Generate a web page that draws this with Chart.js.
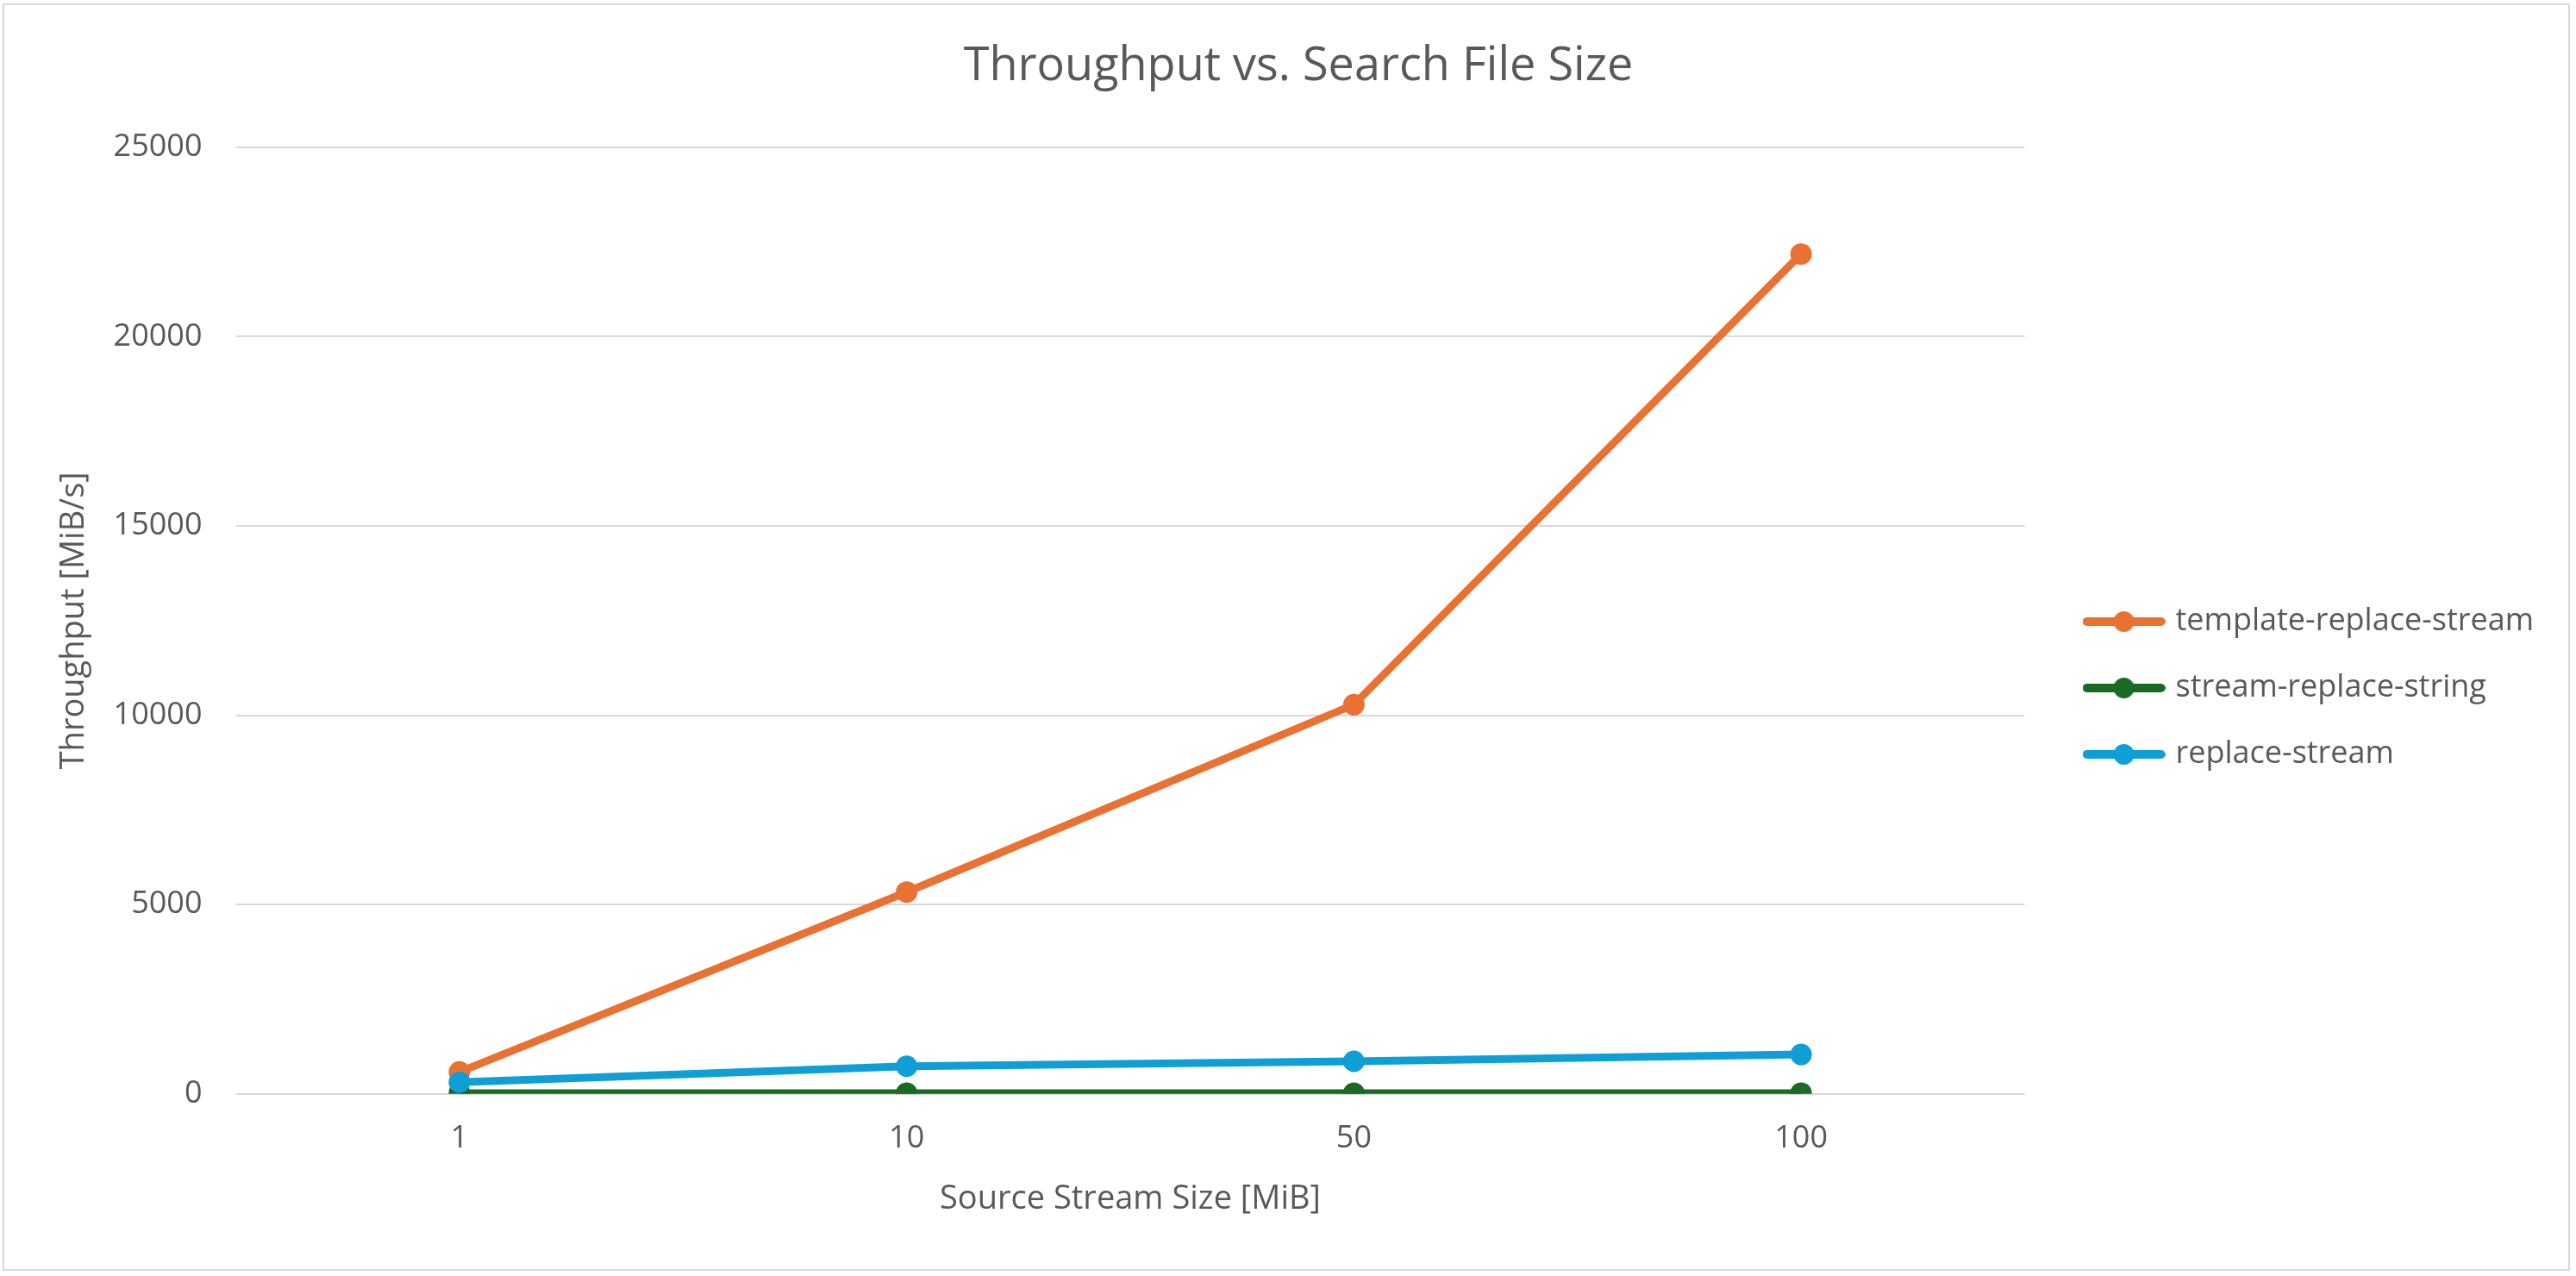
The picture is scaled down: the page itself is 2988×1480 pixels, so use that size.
<!DOCTYPE html>
<html>
<head>
<meta charset="utf-8">
<script src="https://cdn.jsdelivr.net/npm/chart.js@4/dist/chart.umd.min.js"></script>
<style>
  html, body { margin: 0; padding: 0; background: #ffffff; }
  #wrap { position: absolute; left: 3px; top: 4px; width: 2978px; height: 1470px; border: 2px solid #d9d9d9; box-sizing: border-box; background: #fff; }
  canvas { display: block; }
</style>
</head>
<body>
<div id="wrap"><canvas id="c"></canvas></div>
<script>
const categories = ['1', '10', '50', '100'];
const templateReplaceStream = [580, 5330, 10280, 22180];
const streamReplaceString = [20, 20, 20, 20];
const replaceStream = [310, 730, 860, 1040];
const seriesNames = ['template-replace-stream', 'stream-replace-string', 'replace-stream'];
const seriesColors = ['#E97132', '#196B24', '#0F9ED5'];
const yTicks = [0, 5000, 10000, 15000, 20000, 25000];

const FONT = "'Open Sans', sans-serif";
const TXT = '#595959';

function legendIcon(color) {
  const c = document.createElement('canvas');
  c.width = 96; c.height = 26;
  const g = c.getContext('2d');
  g.strokeStyle = color; g.lineWidth = 10; g.lineCap = 'round';
  g.beginPath(); g.moveTo(5, 13); g.lineTo(91, 13); g.stroke();
  g.fillStyle = color;
  g.beginPath(); g.arc(48, 13, 12, 0, Math.PI * 2); g.fill();
  return c;
}
const icons = seriesColors.map(legendIcon);

const seriesData = [templateReplaceStream, streamReplaceString, replaceStream];
const drawOrder = [2, 1, 0]; // later series drawn on top
const datasets = seriesNames.map((name, i) => ({
  label: name,
  data: seriesData[i],
  borderColor: seriesColors[i],
  backgroundColor: seriesColors[i],
  pointBackgroundColor: seriesColors[i],
  pointBorderWidth: 0,
  pointRadius: 12.5,
  pointHoverRadius: 12.5,
  borderWidth: 9,
  pointStyle: 'circle',
  legendIcon: icons[i],
  tension: 0,
  order: drawOrder[i]
}));

const canvas = document.getElementById('c');
canvas.width = 2974; canvas.height = 1466;
canvas.style.width = '2974px'; canvas.style.height = '1466px';

new Chart(canvas, {
  type: 'line',
  data: { labels: categories, datasets },
  options: {
    responsive: false,
    animation: false,
    devicePixelRatio: 1,
    layout: { padding: { left: 58, right: 30, top: 0, bottom: 62 } },
    plugins: {
      title: {
        display: true,
        text: 'Throughput vs. Search File Size',
        color: TXT,
        font: { family: FONT, size: 54, weight: 'normal', lineHeight: 1.2 },
        padding: { top: 39, bottom: 61 }
      },
      legend: {
        display: true,
        position: 'right',
        align: 'center',
        maxWidth: 700,
        title: { display: true, text: ' ', font: { size: 10, lineHeight: 1 }, padding: 85 },
        labels: {
          usePointStyle: true,
          pointStyleWidth: 84,
          padding: 41,
          color: TXT,
          font: { family: FONT, size: 36 },
          generateLabels(chart) {
            return chart.data.datasets.map((d, i) => ({
              text: d.label,
              fillStyle: d.borderColor,
              strokeStyle: d.borderColor,
              lineWidth: 0,
              pointStyle: d.legendIcon,
              datasetIndex: i,
              hidden: false,
              fontColor: TXT
            }));
          }
        }
      },
      tooltip: { enabled: false }
    },
    scales: {
      x: {
        type: 'category',
        offset: true,
        grid: { display: false, drawTicks: false },
        border: { display: false },
        ticks: { color: TXT, font: { family: FONT, size: 36 }, padding: 30, maxRotation: 0 },
        title: {
          display: true,
          text: 'Source Stream Size [MiB]',
          color: TXT,
          font: { family: FONT, size: 38, lineHeight: 1.0 },
          padding: { top: 0, bottom: 0 }
        }
      },
      y: {
        min: 0,
        max: 25000,
        afterBuildTicks(scale) { scale.ticks = yTicks.map(v => ({ value: v })); },
        grid: { color: '#d9d9d9', lineWidth: 2, drawTicks: false },
        border: { display: false },
        ticks: { color: TXT, font: { family: FONT, size: 36 }, padding: 39, callback: v => String(v) },
        title: {
          display: true,
          text: 'Throughput [MiB/s]',
          color: TXT,
          font: { family: FONT, size: 38 },
          padding: { top: 0, bottom: -16 }
        }
      },
      gap: {
        type: 'linear',
        position: 'right',
        display: true,
        grid: { display: false, drawTicks: false },
        border: { display: false },
        ticks: { display: false },
        afterFit(scale) { scale.width = 32; }
      }
    }
  }
});
</script>
</body>
</html>
